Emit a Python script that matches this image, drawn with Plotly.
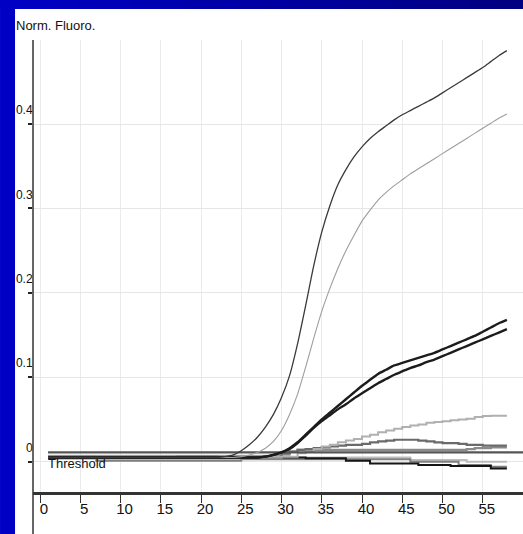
import plotly.graph_objects as go

# ---------------- data ----------------
cycles = list(range(1, 59))

curve_a = [0.005, 0.005, 0.005, 0.005, 0.005, 0.005, 0.005, 0.005, 0.005, 0.005,
           0.005, 0.005, 0.005, 0.005, 0.005, 0.005, 0.005, 0.005, 0.005, 0.005,
           0.005, 0.005, 0.006, 0.008, 0.013, 0.020, 0.029, 0.041, 0.056, 0.076,
           0.102, 0.140, 0.185, 0.232, 0.272, 0.303, 0.328, 0.346, 0.361, 0.373,
           0.383, 0.391, 0.398, 0.405, 0.411, 0.416, 0.421, 0.426, 0.431, 0.437,
           0.443, 0.449, 0.455, 0.461, 0.467, 0.474, 0.481, 0.487]

curve_b = [0.005, 0.005, 0.005, 0.005, 0.005, 0.005, 0.005, 0.005, 0.005, 0.005,
           0.005, 0.005, 0.005, 0.005, 0.005, 0.005, 0.005, 0.005, 0.005, 0.005,
           0.005, 0.005, 0.005, 0.005, 0.006, 0.008, 0.011, 0.016, 0.024, 0.037,
           0.056, 0.080, 0.112, 0.146, 0.178, 0.205, 0.229, 0.250, 0.268, 0.285,
           0.298, 0.310, 0.319, 0.327, 0.334, 0.341, 0.347, 0.353, 0.359, 0.365,
           0.371, 0.377, 0.383, 0.389, 0.395, 0.401, 0.407, 0.412]

curve_c = [0.005, 0.005, 0.005, 0.005, 0.005, 0.005, 0.005, 0.005, 0.005, 0.005,
           0.005, 0.005, 0.005, 0.005, 0.005, 0.005, 0.005, 0.005, 0.005, 0.005,
           0.005, 0.005, 0.005, 0.005, 0.005, 0.005, 0.005, 0.006, 0.008, 0.011,
           0.016, 0.023, 0.032, 0.041, 0.050, 0.058, 0.066, 0.074, 0.082, 0.090,
           0.097, 0.104, 0.109, 0.114, 0.117, 0.120, 0.123, 0.126, 0.129, 0.133,
           0.137, 0.141, 0.145, 0.149, 0.154, 0.159, 0.164, 0.168]

curve_d = [0.005, 0.005, 0.005, 0.005, 0.005, 0.005, 0.005, 0.005, 0.005, 0.005,
           0.005, 0.005, 0.005, 0.005, 0.005, 0.005, 0.005, 0.005, 0.005, 0.005,
           0.005, 0.005, 0.005, 0.005, 0.005, 0.005, 0.005, 0.006, 0.008, 0.011,
           0.015, 0.022, 0.031, 0.040, 0.048, 0.055, 0.062, 0.068, 0.075, 0.081,
           0.087, 0.093, 0.098, 0.103, 0.107, 0.111, 0.114, 0.118, 0.121, 0.125,
           0.129, 0.133, 0.137, 0.141, 0.145, 0.149, 0.153, 0.157]

curve_e = [0.006, 0.006, 0.006, 0.006, 0.006, 0.006, 0.006, 0.006, 0.006, 0.006,
           0.006, 0.006, 0.006, 0.006, 0.006, 0.006, 0.006, 0.006, 0.006, 0.006,
           0.006, 0.006, 0.006, 0.006, 0.006, 0.006, 0.006, 0.006, 0.006, 0.006,
           0.006, 0.010, 0.012, 0.015, 0.018, 0.020, 0.023, 0.025, 0.027, 0.030,
           0.032, 0.035, 0.037, 0.039, 0.041, 0.043, 0.044, 0.046, 0.047, 0.048,
           0.049, 0.050, 0.051, 0.053, 0.054, 0.0545, 0.0545, 0.0545]

curve_f = [0.006, 0.006, 0.006, 0.006, 0.006, 0.006, 0.006, 0.006, 0.006, 0.006,
           0.006, 0.006, 0.006, 0.006, 0.006, 0.006, 0.006, 0.006, 0.006, 0.006,
           0.006, 0.006, 0.006, 0.006, 0.006, 0.006, 0.006, 0.006, 0.006, 0.010,
           0.012, 0.014, 0.015, 0.016, 0.017, 0.018, 0.019, 0.020, 0.020, 0.021,
           0.023, 0.024, 0.025, 0.026, 0.026, 0.026, 0.025, 0.024, 0.023, 0.022,
           0.022, 0.021, 0.020, 0.020, 0.019, 0.019, 0.019, 0.019]

curve_g = [0.004, 0.004, 0.004, 0.004, 0.004, 0.004, 0.004, 0.004, 0.004, 0.004,
           0.004, 0.004, 0.004, 0.004, 0.004, 0.004, 0.004, 0.004, 0.004, 0.004,
           0.004, 0.004, 0.004, 0.004, 0.004, 0.004, 0.004, 0.004, 0.004, 0.009,
           0.012, 0.014, 0.014, 0.014, 0.014, 0.014, 0.014, 0.014, 0.014, 0.014,
           0.014, 0.014, 0.014, 0.014, 0.014, 0.014, 0.014, 0.014, 0.014, 0.014,
           0.014, 0.014, 0.015, 0.016, 0.016, 0.017, 0.017, 0.017]

curve_h = [0.005, 0.005, 0.005, 0.005, 0.005, 0.005, 0.005, 0.005, 0.005, 0.005,
           0.005, 0.005, 0.005, 0.005, 0.005, 0.005, 0.006, 0.006, 0.006, 0.006,
           0.006, 0.005, 0.005, 0.005, 0.005, 0.005, 0.005, 0.005, 0.005, 0.005,
           0.005, 0.005, 0.004, 0.004, 0.004, 0.004, 0.004, 0.001, 0.001, 0.001,
           -0.002, -0.002, -0.002, -0.002, -0.002, -0.002, -0.004, -0.004, -0.004, -0.004,
           -0.005, -0.005, -0.005, -0.005, -0.005, -0.008, -0.008, -0.008]

curve_i = [0.006, 0.006, 0.006, 0.006, 0.006, 0.006, 0.001, 0.001, 0.001, 0.001,
           0.001, 0.001, 0.001, 0.001, 0.001, 0.001, 0.001, 0.001, 0.001, 0.001,
           0.001, 0.001, 0.001, 0.001, 0.003, 0.003, 0.003, 0.003, 0.003, 0.003,
           0.003, 0.003, 0.003, 0.003, 0.003, 0.003, 0.003, 0.003, 0.003, 0.003,
           0.003, 0.003, 0.003, 0.003, 0.003, 0.000, 0.000, 0.000, 0.000, 0.000,
           0.000, -0.004, -0.004, -0.004, -0.004, -0.006, -0.006, -0.006]

curve_j = [0.007, 0.007, 0.007, 0.007, 0.007, 0.007, 0.007, 0.007, 0.007, 0.007,
           0.007, 0.007, 0.007, 0.007, 0.007, 0.007, 0.007, 0.007, 0.007, 0.007,
           0.007, 0.007, 0.007, 0.007, 0.007, 0.007, 0.007, 0.007, 0.007, 0.007,
           0.005, 0.005, 0.005, 0.005, 0.005, 0.005, 0.005, 0.005, 0.005, 0.005,
           0.005, 0.005, 0.005, 0.005, 0.005, 0.002, 0.002, 0.002, 0.002, 0.002,
           0.002, 0.002, 0.000, 0.000, 0.000, 0.000, 0.000, 0.000]

threshold_value = 0.011
threshold_x = [1, 60]

x_tick_vals = [0, 5, 10, 15, 20, 25, 30, 35, 40, 45, 50, 55, 60]
x_tick_text = ["0", "5", "10", "15", "20", "25", "30", "35", "40", "45", "50", "55", "60"]
y_tick_vals = [0, 0.1, 0.2, 0.3, 0.4]
y_tick_text = ["0", "0.1", "0.2", "0.3", "0.4"]

# ---------------- figure ----------------
FONT = "Liberation Sans Narrow, Liberation Sans, Arial, sans-serif"

fig = go.Figure()

series = [
    (curve_j, "#bdbdbd", 2.0),
    (curve_i, "#808080", 2.0),
    (curve_h, "#151515", 2.0),
    (curve_g, "#8a8a8a", 2.2),
    (curve_f, "#6a6a6a", 2.2),
    (curve_e, "#b0b0b0", 2.0),
]
for vals, col, w in series:
    fig.add_trace(go.Scatter(x=cycles, y=vals, mode="lines",
                             line=dict(color=col, width=w, shape="hv"),
                             showlegend=False, hoverinfo="skip"))

fig.add_trace(go.Scatter(x=threshold_x, y=[threshold_value, threshold_value],
                         mode="lines", line=dict(color="#555555", width=2.4),
                         showlegend=False, hoverinfo="skip"))

for vals, col, w in [
    (curve_d, "#1c1c1c", 2.4),
    (curve_c, "#1c1c1c", 2.4),
    (curve_b, "#9e9e9e", 1.1),
    (curve_a, "#3a3a3a", 1.3),
]:
    fig.add_trace(go.Scatter(x=cycles, y=vals, mode="lines",
                             line=dict(color=col, width=w, shape="spline", smoothing=0.6),
                             showlegend=False, hoverinfo="skip"))

# blue frame (left strip + gradient top strip)
shapes = [dict(type="rect", xref="paper", yref="paper",
               x0=-0.0673, x1=-0.0367, y0=-0.095, y1=1.09,
               fillcolor="#0000c4", line=dict(width=0), layer="above")]
n_seg = 20
for k in range(n_seg):
    x0 = -0.0673 + (1.0673 * k / n_seg)
    x1 = -0.0673 + (1.0673 * (k + 1) / n_seg) + 0.002
    t = k / (n_seg - 1)
    b = int(196 - 66 * t)
    shapes.append(dict(type="rect", xref="paper", yref="paper",
                       x0=x0, x1=x1, y0=1.0686, y1=1.09,
                       fillcolor=f"rgb(0,0,{b})", line=dict(width=0), layer="above"))
# y axis line extended below x axis
shapes.append(dict(type="line", xref="paper", yref="paper",
                   x0=0, x1=0, y0=-0.095, y1=1.0,
                   line=dict(color="#333333", width=1.5), layer="above"))
fig.update_layout(shapes=shapes)

fig.add_annotation(text="Norm. Fluoro.", xref="paper", yref="paper",
                   x=-0.038, y=1.033, xanchor="left", yanchor="middle",
                   showarrow=False, font=dict(family=FONT, size=13, color="#111111"))
fig.add_annotation(text="Threshold", xref="x", yref="y",
                   x=threshold_x[0], y=threshold_value, xanchor="left", yanchor="top",
                   xshift=-2, yshift=-2,
                   showarrow=False, font=dict(family=FONT, size=13, color="#111111"))

fig.update_layout(
    width=523, height=534,
    margin=dict(l=33, r=0, t=40, b=42),
    paper_bgcolor="white", plot_bgcolor="white",
    font=dict(family=FONT, color="#111111"),
    xaxis=dict(range=[-0.87, 60.0], tickvals=x_tick_vals, ticktext=x_tick_text,
               showgrid=True, gridcolor="#ebebeb", gridwidth=1, zeroline=False,
               showline=True, linecolor="#333333", linewidth=2.5,
               ticks="outside", ticklen=8, tickwidth=1, tickcolor="#333333",
               tickfont=dict(family=FONT, size=15, color="#111111"),
               ticklabelshift=4, ticklabelstandoff=-7),
    yaxis=dict(range=[-0.0359, 0.4996], tickvals=y_tick_vals, ticktext=y_tick_text,
               showgrid=True, gridcolor="#e6e6e6", gridwidth=1, zeroline=False,
               showline=False,
               ticks="outside", ticklen=4, tickwidth=2, tickcolor="#222222",
               tickfont=dict(family=FONT, size=12, color="#111111"),
               ticklabelshift=-14, ticklabelstandoff=-7),
)

fig.write_html("out.html", config={"displayModeBar": False},
               post_script="document.body.style.margin='0';document.body.style.padding='0';")
